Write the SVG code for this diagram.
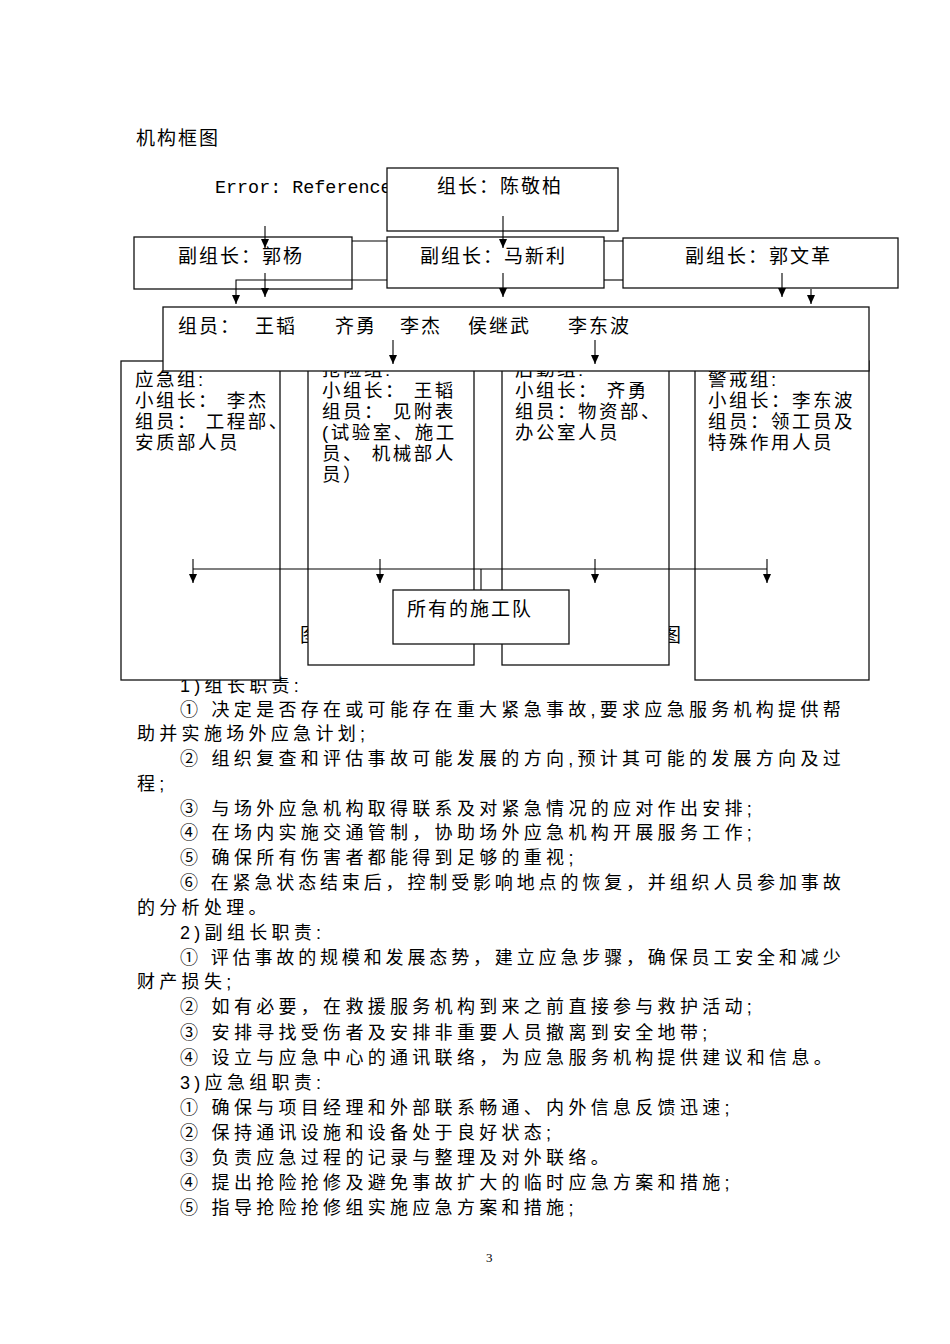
<svg xmlns="http://www.w3.org/2000/svg" width="950" height="1344" viewBox="0 0 950 1344">
<style>
text { font-family: "Liberation Sans", "Noto Sans CJK SC", sans-serif; fill: #000; }
.t { font-size: 19px; letter-spacing: 2px; }
.g { font-size: 18.5px; letter-spacing: 2.5px; }
.b { font-size: 18px; letter-spacing: 4.3px; }
.mono { font-family: "Liberation Mono", monospace; font-size: 18.4px; letter-spacing: 0; }
.box { fill: #fff; stroke: #111; stroke-width: 1.3; }
.c { fill: none; stroke: #000; stroke-width: 1.1; }
.a { marker-end: url(#ah); }
.pg { font-family: "Liberation Serif", serif; font-size: 13px; }
</style>
<defs>
<marker id="ah" markerUnits="userSpaceOnUse" viewBox="0 0 9 8" markerWidth="9" markerHeight="8" refX="9" refY="4" orient="auto">
<path d="M0,0 L9,4 L0,8 z" fill="#000"/>
</marker>
</defs>
<rect width="950" height="1344" fill="#fff"/>

<text class="t" x="136" y="145">机构框图</text>

<g id="body">
<text class="b">
<tspan x="180" y="692">1)组长职责:</tspan>
<tspan x="180" y="716" textLength="665" lengthAdjust="spacing">① 决定是否存在或可能存在重大紧急事故,要求应急服务机构提供帮</tspan>
<tspan x="137" y="740">助并实施场外应急计划;</tspan>
<tspan x="180" y="765" textLength="665" lengthAdjust="spacing">② 组织复查和评估事故可能发展的方向,预计其可能的发展方向及过</tspan>
<tspan x="137" y="790">程;</tspan>
<tspan x="180" y="815">③ 与场外应急机构取得联系及对紧急情况的应对作出安排;</tspan>
<tspan x="180" y="839">④ 在场内实施交通管制，协助场外应急机构开展服务工作;</tspan>
<tspan x="180" y="864">⑤ 确保所有伤害者都能得到足够的重视;</tspan>
<tspan x="180" y="889" textLength="665" lengthAdjust="spacing">⑥ 在紧急状态结束后，控制受影响地点的恢复，并组织人员参加事故</tspan>
<tspan x="137" y="914">的分析处理。</tspan>
<tspan x="180" y="939">2)副组长职责:</tspan>
<tspan x="180" y="964" textLength="665" lengthAdjust="spacing">① 评估事故的规模和发展态势，建立应急步骤，确保员工安全和减少</tspan>
<tspan x="137" y="988">财产损失;</tspan>
<tspan x="180" y="1013">② 如有必要，在救援服务机构到来之前直接参与救护活动;</tspan>
<tspan x="180" y="1039">③ 安排寻找受伤者及安排非重要人员撤离到安全地带;</tspan>
<tspan x="180" y="1064">④ 设立与应急中心的通讯联络，为应急服务机构提供建议和信息。</tspan>
<tspan x="180" y="1089">3)应急组职责:</tspan>
<tspan x="180" y="1114">① 确保与项目经理和外部联系畅通、内外信息反馈迅速;</tspan>
<tspan x="180" y="1139">② 保持通讯设施和设备处于良好状态;</tspan>
<tspan x="180" y="1164">③ 负责应急过程的记录与整理及对外联络。</tspan>
<tspan x="180" y="1189">④ 提出抢险抢修及避免事故扩大的临时应急方案和措施;</tspan>
<tspan x="180" y="1214">⑤ 指导抢险抢修组实施应急方案和措施;</tspan>
</text>
</g>

<text class="t" x="300" y="642">图</text>
<text class="t" x="662" y="642">图</text>

<g id="g-yingji">
<rect class="box" x="121" y="361" width="159" height="319"/>
<text class="g"><tspan x="135" y="386">应急组:</tspan><tspan x="135" y="407">小组长： 李杰</tspan><tspan x="135" y="428">组员： 工程部、</tspan><tspan x="135" y="449">安质部人员</tspan></text>
</g>
<g id="g-qiangxian">
<rect class="box" x="308" y="355" width="166" height="310"/>
<text class="g"><tspan x="322" y="376">抢险组:</tspan><tspan x="322" y="397">小组长： 王韬</tspan><tspan x="322" y="418">组员： 见附表</tspan><tspan x="322" y="439">(试验室、施工</tspan><tspan x="322" y="460">员、 机械部人</tspan><tspan x="322" y="481">员）</tspan></text>
</g>
<g id="g-houqin">
<rect class="box" x="502" y="355" width="167" height="310"/>
<text class="g"><tspan x="515" y="376">后勤组:</tspan><tspan x="515" y="397">小组长： 齐勇</tspan><tspan x="515" y="418">组员：物资部、</tspan><tspan x="515" y="439">办公室人员</tspan></text>
</g>
<g id="g-jingjie">
<rect class="box" x="695" y="361" width="174" height="319"/>
<text class="g"><tspan x="708" y="386">警戒组:</tspan><tspan x="708" y="407">小组长：李东波</tspan><tspan x="708" y="428">组员：领工员及</tspan><tspan x="708" y="449">特殊作用人员</tspan></text>
</g>

<g id="members">
<rect class="box" x="163" y="307" width="706" height="64"/>
<text class="t" y="333"><tspan x="178">组员：</tspan><tspan x="255">王韬</tspan><tspan x="335">齐勇</tspan><tspan x="400">李杰</tspan><tspan x="468">侯继武</tspan><tspan x="568">李东波</tspan></text>
</g>

<text class="mono" x="215" y="193">Error: Reference</text>

<g id="leader">
<rect class="box" x="387" y="168" width="231" height="63"/>
<text class="t" x="437" y="193">组长：陈敬柏</text>
</g>
<g id="dep-guoyang">
<rect class="box" x="134" y="237" width="218" height="52"/>
<text class="t" x="178" y="263">副组长：郭杨</text>
</g>
<g id="dep-maxinli">
<rect class="box" x="387" y="237" width="217" height="51"/>
<text class="t" x="420" y="263">副组长：马新利</text>
</g>
<g id="dep-guowenge">
<rect class="box" x="623" y="238" width="275" height="50"/>
<text class="t" x="685" y="263">副组长：郭文革</text>
</g>

<g id="connectors">
<line class="c" x1="352" y1="241" x2="387" y2="241"/>
<line class="c" x1="604" y1="241" x2="623" y2="241"/>
<line class="c" x1="604" y1="280" x2="623" y2="280"/>
<path class="c a" d="M387,280 H236 V304"/>
<line class="c a" x1="265" y1="226" x2="265" y2="248"/>
<line class="c a" x1="503" y1="216" x2="503" y2="248"/>
<line class="c a" x1="265" y1="273" x2="265" y2="297"/>
<line class="c a" x1="503" y1="273" x2="503" y2="297"/>
<line class="c a" x1="782" y1="273" x2="782" y2="297"/>
<line class="c a" x1="811" y1="289" x2="811" y2="304"/>
<line class="c a" x1="393" y1="340" x2="393" y2="364"/>
<line class="c a" x1="595" y1="340" x2="595" y2="364"/>
<line class="c" x1="193" y1="569" x2="767" y2="569"/>
<line class="c a" x1="193" y1="559" x2="193" y2="583"/>
<line class="c a" x1="380" y1="559" x2="380" y2="583"/>
<line class="c a" x1="595" y1="559" x2="595" y2="583"/>
<line class="c a" x1="767" y1="559" x2="767" y2="583"/>
<line class="c" x1="481" y1="569" x2="481" y2="591"/>
</g>

<g id="teams">
<rect class="box" x="393" y="590" width="176" height="54"/>
<text class="t" x="407" y="616">所有的施工队</text>
</g>

<text class="pg" x="486" y="1262">3</text>
</svg>
